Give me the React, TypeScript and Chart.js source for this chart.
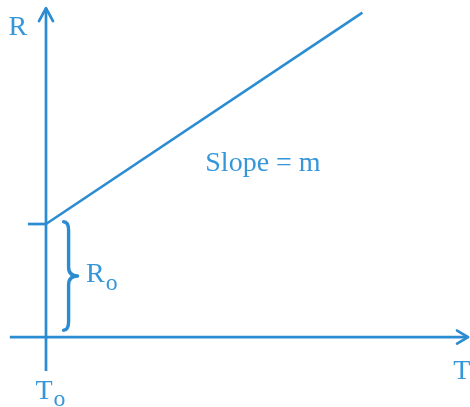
import React, { useEffect, useRef } from "react";
import { Chart, registerables } from "chart.js";

Chart.register(...registerables);

// Diagram data (abstract units: 1 unit = R0)
const slopeT = [0.0, 2.8];
const slopeR = [1.0, 2.87];
const rAxisT = [0, 0];
const rAxisR = [-0.3, 2.91];
const tAxisT = [-0.32, 3.735];
const tAxisR = [0, 0];
const r0TickT = [-0.16, 0];
const r0TickR = [1.0, 1.0];
const braceT = [0.2, 0.2];
const braceR = [0.06, 1.02];

const labelR = { t: -0.25, r: 2.74, main: "R", sub: "" };
const labelSlope = { t: 1.92, r: 1.53, main: "Slope = m", sub: "" };
const labelR0 = { t: 0.355, r: 0.55, main: "R", sub: "o" };
const labelT0 = { t: 0.04, r: -0.48, main: "T", sub: "o" };
const labelT = { t: 3.68, r: -0.31, main: "T", sub: "" };

const COLOR = "#2c8cd2";
const TEXT_COLOR = "#3596da";
const FONT = "'Liberation Serif', 'DejaVu Serif', serif";

const toPts = (xs: number[], ys: number[]) => xs.map((x, i) => ({ x, y: ys[i] }));

export default function App() {
  const ref = useRef<HTMLCanvasElement | null>(null);
  useEffect(() => {
    document.body.style.margin = "0";
    const canvas = ref.current!;
    const lineDs = (data: { x: number; y: number }[], w: number) => ({
      data,
      showLine: true,
      borderColor: COLOR,
      borderWidth: w,
      pointRadius: 0,
      fill: false,
    });
    const deco = {
      id: "deco",
      afterDatasetsDraw(chart: any) {
        const { ctx, scales } = chart;
        const px = (t: number) => scales.x.getPixelForValue(t);
        const py = (r: number) => scales.y.getPixelForValue(r);
        ctx.save();
        ctx.strokeStyle = COLOR;
        ctx.lineWidth = 2.7;
        ctx.lineCap = "round";
        ctx.lineJoin = "round";
        // vertical arrowhead
        const vx = px(rAxisT[1]);
        const vy = py(rAxisR[1]);
        ctx.beginPath();
        ctx.moveTo(vx - 7, vy + 13);
        ctx.lineTo(vx, vy);
        ctx.lineTo(vx + 7, vy + 13);
        ctx.stroke();
        // horizontal arrowhead
        const hx = px(tAxisT[1]);
        const hy = py(tAxisR[1]);
        ctx.beginPath();
        ctx.moveTo(hx - 11, hy - 6.5);
        ctx.lineTo(hx, hy);
        ctx.lineTo(hx - 11, hy + 6.5);
        ctx.stroke();
        // brace
        const bx = px(braceT[0]);
        const yB = py(braceR[0]);
        const yT = py(braceR[1]);
        const yM = (yB + yT) / 2;
        const x0 = bx - 5;
        const xm = bx;
        const xt = bx + 9;
        ctx.lineWidth = 3.4;
        ctx.beginPath();
        ctx.moveTo(x0, yT);
        ctx.quadraticCurveTo(xm, yT, xm, yT + 9);
        ctx.lineTo(xm, yM - 9);
        ctx.quadraticCurveTo(xm, yM, xt, yM);
        ctx.quadraticCurveTo(xm, yM, xm, yM + 9);
        ctx.lineTo(xm, yB - 9);
        ctx.quadraticCurveTo(xm, yB, x0, yB);
        ctx.stroke();
        // labels
        ctx.fillStyle = TEXT_COLOR;
        ctx.textBaseline = "middle";
        const subScale = 0.85;
        const drawLabel = (l: any, align: string, size: number) => {
          ctx.font = `${size}px ${FONT}`;
          const mw = ctx.measureText(l.main).width;
          ctx.font = `${size * subScale}px ${FONT}`;
          const sw = l.sub ? ctx.measureText(l.sub).width + 1 : 0;
          const total = mw + sw;
          let x = px(l.t);
          if (align === "center") x -= total / 2;
          const y = py(l.r);
          ctx.textAlign = "left";
          ctx.font = `${size}px ${FONT}`;
          ctx.fillText(l.main, x, y);
          if (l.sub) {
            ctx.font = `${size * subScale}px ${FONT}`;
            ctx.fillText(l.sub, x + mw + 1, y + size * 0.3);
          }
        };
        drawLabel(labelR, "center", 28);
        drawLabel(labelSlope, "center", 28);
        drawLabel(labelR0, "left", 28);
        drawLabel(labelT0, "center", 28);
        drawLabel(labelT, "center", 28);
        ctx.restore();
      },
    };
    const chart = new Chart(canvas, {
      type: "scatter",
      data: {
        datasets: [
          lineDs(toPts(rAxisT, rAxisR), 2.7),
          lineDs(toPts(tAxisT, tAxisR), 2.7),
          lineDs(toPts(r0TickT, r0TickR), 2.7),
          lineDs(toPts(slopeT, slopeR), 2.6),
        ],
      },
      options: {
        animation: false,
        responsive: false,
        layout: { padding: 0 },
        plugins: { legend: { display: false }, tooltip: { enabled: false } },
        scales: {
          x: { type: "linear", display: false, min: -0.407, max: 3.752 },
          y: { type: "linear", display: false, min: -0.619, max: 2.982 },
        },
      },
      plugins: [deco],
    } as any);
    return () => chart.destroy();
  }, []);
  return (
    <div style={{ width: 470, height: 407, background: "#fff" }}>
      <canvas ref={ref} width={470} height={407} style={{ display: "block" }} />
    </div>
  );
}
